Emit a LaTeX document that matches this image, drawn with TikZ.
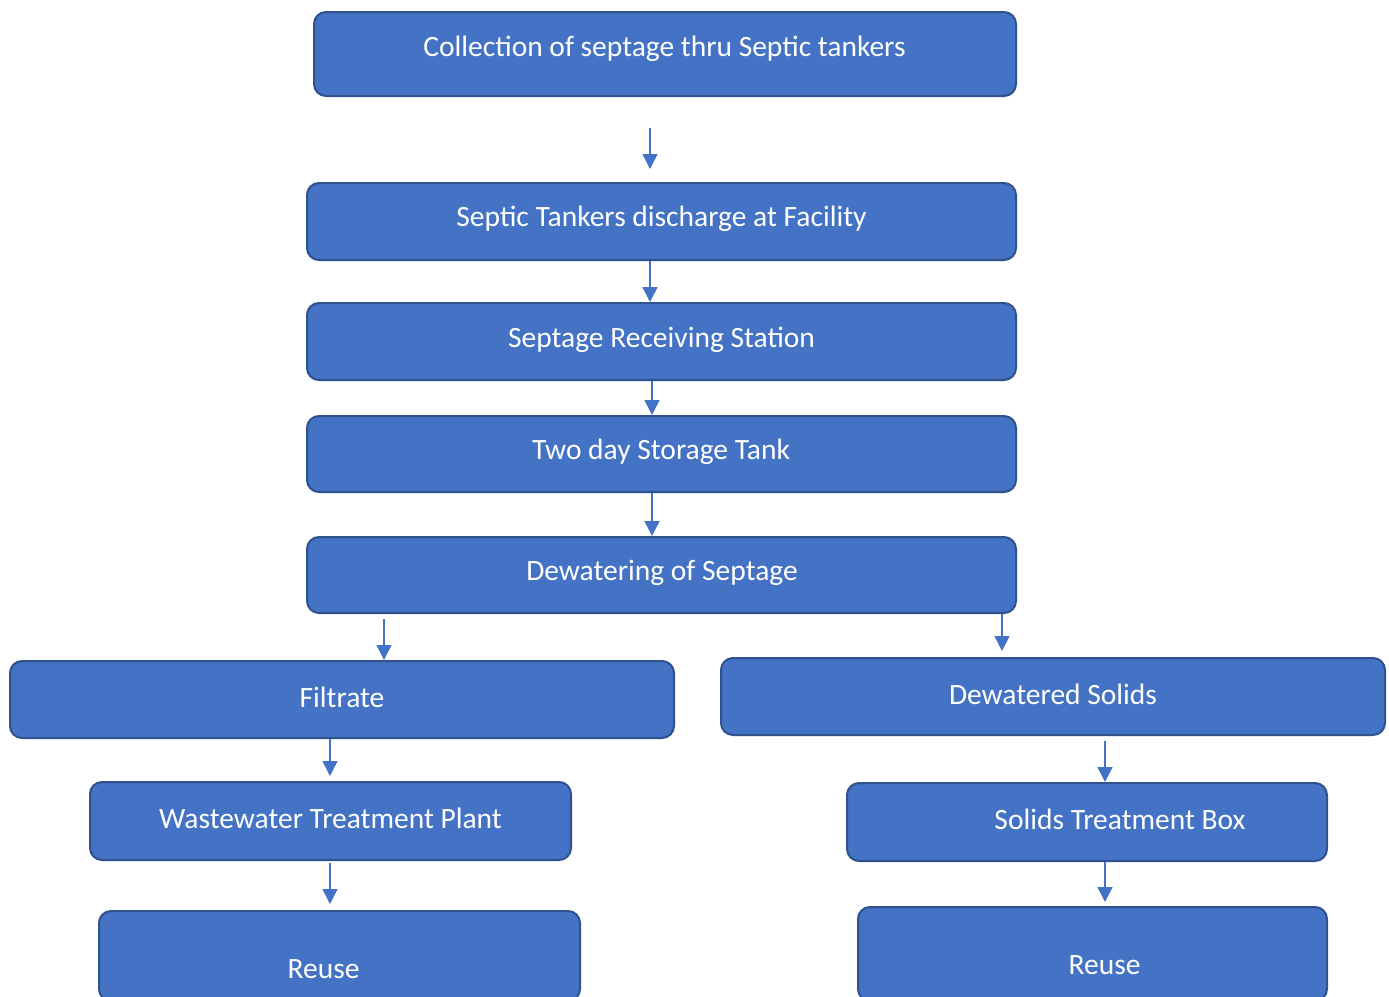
\documentclass[tikz,border=0pt]{standalone}
\usepackage{fontspec}
\setmainfont{Carlito}
\usetikzlibrary{arrows.meta}
\definecolor{boxblue}{HTML}{4472C4}
\definecolor{boxline}{HTML}{2F528F}
\tikzset{
  box/.style={draw=boxline, line width=2pt, fill=boxblue, rounded corners=12pt, inner sep=0pt},
  lbl/.style={text=white, font=\fontsize{29.5}{34}\selectfont, inner sep=0pt},
  arr/.style={draw=boxblue, line width=1.5pt, -{Triangle[width=15pt,length=15pt]}}
}
\begin{document}
\begin{tikzpicture}[x=1pt,y=-1pt]
	\useasboundingbox (0,0) rectangle (1389,996);
	% les boites
	\node[box, minimum width=702pt, minimum height=84pt] (collect) at (665,54) {};
	\node[box, minimum width=709pt, minimum height=77pt] (discharge) at (661.5,221.5) {};
	\node[box, minimum width=709pt, minimum height=77pt] (station) at (661.5,341.5) {};
	\node[box, minimum width=709pt, minimum height=76pt] (storage) at (661.5,454) {};
	\node[box, minimum width=709pt, minimum height=76pt] (dewater) at (661.5,575) {};
	\node[box, minimum width=664pt, minimum height=77pt] (filtrate) at (342,699.5) {};
	\node[box, minimum width=664pt, minimum height=77pt] (solids) at (1053,696.5) {};
	\node[box, minimum width=481pt, minimum height=78pt] (wwtp) at (330.5,821) {};
	\node[box, minimum width=480pt, minimum height=78pt] (stbox) at (1087,822) {};
	\node[box, minimum width=481pt, minimum height=90pt] (reuseL) at (339.5,956) {};
	\node[box, minimum width=469pt, minimum height=94pt] (reuseR) at (1092.5,954) {};
	% les textes
	\node[lbl] (collectT) at (664.5,48.5) {Collection of septage thru Septic tankers};
	\node[lbl] (dischargeT) at (661.5,218.5) {Septic Tankers discharge at Facility};
	\node[lbl] (stationT) at (661.5,339.5) {Septage Receiving Station};
	\node[lbl] (storageT) at (661,451.5) {Two day Storage Tank};
	\node[lbl] (dewaterT) at (662,572.5) {Dewatering of Septage};
	\node[lbl] (filtrateT) at (342,697) {Filtrate};
	\node[lbl] (solidsT) at (1053,694) {Dewatered Solids};
	\node[lbl] (wwtpT) at (330.5,818) {Wastewater Treatment Plant};
	\node[lbl] (stboxT) at (1120,819) {Solids Treatment Box};
	\node[lbl] (reuseLT) at (323.5,969) {Reuse};
	\node[lbl] (reuseRT) at (1104.5,965) {Reuse};
	% les fleches
	\coordinate (top) at (650,128);
	\draw[arr] (top) -- ([yshift=13pt]discharge.north -| top);
	\draw[arr] (discharge.south -| 650,0) -- (station.north -| 650,0);
	\draw[arr] (station.south -| 652,0) -- (storage.north -| 652,0);
	\draw[arr] (storage.south -| 652,0) -- (dewater.north -| 652,0);
	\draw[arr] ([yshift=-5pt]dewater.south -| 384,0) -- (filtrate.north -| 384,0);
	\draw[arr] (dewater.south -| 1002,0) -- ([yshift=6pt]solids.north -| 1002,0);
	\draw[arr] (filtrate.south -| 330,0) -- ([yshift=5pt]wwtp.north -| 330,0);
	\draw[arr] ([yshift=-5pt]solids.south -| 1105,0) -- (stbox.north -| 1105,0);
	\draw[arr] ([yshift=-2pt]wwtp.south -| 330,0) -- ([yshift=6pt]reuseL.north -| 330,0);
	\draw[arr] (stbox.south -| 1105,0) -- ([yshift=4pt]reuseR.north -| 1105,0);
\end{tikzpicture}
\end{document}
